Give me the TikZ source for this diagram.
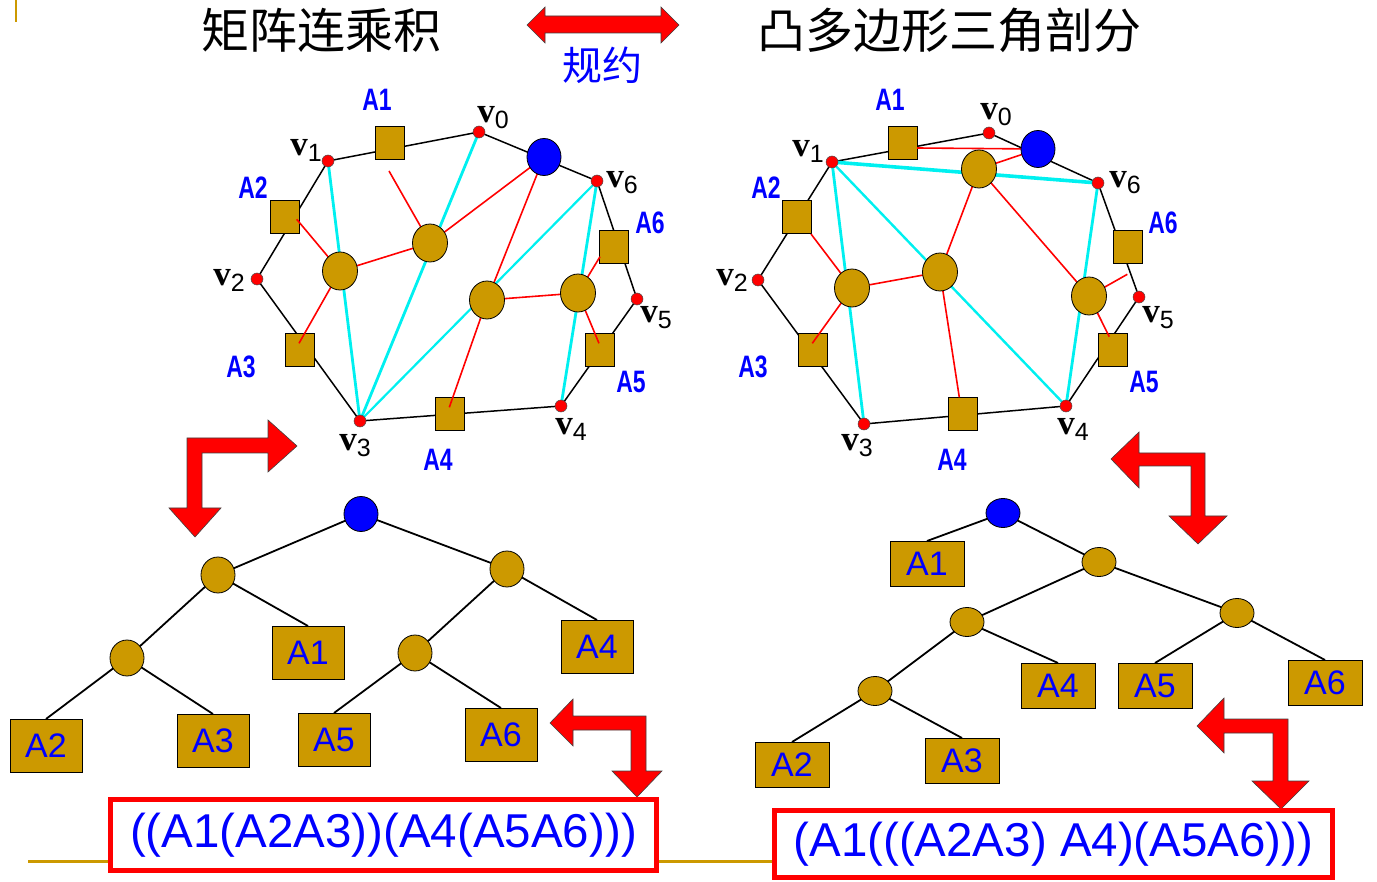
\documentclass[tikz,border=0pt]{standalone}
\usepackage{fontspec}
\setmainfont{Liberation Sans}
\newfontfamily\cjk{Noto Sans CJK SC}
\newfontfamily\serifv{Liberation Serif}
\newfontfamily\narrowA[FakeStretch=0.74]{Liberation Sans Bold}
\usetikzlibrary{shapes.geometric}
\definecolor{gold}{RGB}{204,153,0}
\definecolor{myblue}{RGB}{0,0,255}
\definecolor{mycyan}{RGB}{0,240,240}
\pgfdeclarelayer{bg}
\pgfdeclarelayer{top}
\pgfsetlayers{bg,main,top}
\newcommand{\vlab}[1]{{\fontsize{35}{35}\selectfont\serifv\bfseries v}\raisebox{-6pt}{\fontsize{25}{25}\selectfont #1}}
\begin{document}
\begin{tikzpicture}[x=1pt,y=-1pt,
  pdot/.style={circle,fill=red,draw=black!70,line width=0.5pt,inner sep=0,minimum size=12pt},
  psq/.style={rectangle,fill=gold,draw=black,line width=0.8pt,inner sep=0,minimum width=29pt,minimum height=33pt},
  pell/.style={ellipse,fill=gold,draw=black,line width=0.8pt,inner sep=0,minimum width=35pt,minimum height=38pt},
  pblue/.style={ellipse,fill=myblue,draw=black,line width=0.8pt,inner sep=0,minimum width=34pt,minimum height=37pt},
  blk/.style={black,line width=1.5pt},
  cy/.style={mycyan,line width=2.8pt},
  rd/.style={red,line width=1.6pt},
  plab/.style={text=myblue,inner sep=0,font=\narrowA\fontsize{31}{31}\selectfont},
  vl/.style={inner sep=0},
  tell/.style={ellipse,fill=gold,draw=black,line width=0.8pt,inner sep=0,minimum width=34pt,minimum height=36pt},
  tblue/.style={ellipse,fill=myblue,draw=black,line width=0.8pt,inner sep=0,minimum width=34pt,minimum height=35pt},
  tell2/.style={tell,minimum height=29pt},
  tblue2/.style={tblue,minimum height=29pt},
  tbox/.style={rectangle,fill=gold,draw=black,line width=1pt,inner sep=0,minimum width=72pt,minimum height=53pt,text=myblue,font=\fontsize{34}{34}\selectfont},
  tbox2/.style={tbox,minimum width=74pt,minimum height=45pt},
  tedge/.style={black,line width=1.8pt},
  barrow/.style={fill=red,draw=black!75,line width=0.6pt,line join=miter},
  resbox/.style={rectangle,draw=red,line width=5.5pt,fill=white,inner sep=0,text=myblue,font=\fontsize{47.5}{47.5}\selectfont}
]
\useasboundingbox (0,0) rectangle (1377,882);

% ---------- titles ----------
\node[font=\cjk\fontsize{48}{48}\selectfont] (title1) at (321,30) {矩阵连乘积};
\node[font=\cjk\fontsize{48}{48}\selectfont] (title2) at (949,30) {凸多边形三角剖分};
\node[text=myblue,font=\cjk\fontsize{40}{40}\selectfont] (reduce) at (602,65) {规约};
\draw[barrow] (527,25) -- (545,7) -- (545,16) -- (661,16) -- (661,7) -- (679,25) -- (661,43) -- (661,33) -- (545,33) -- (545,43) -- cycle;

% ---------- left polygon ----------
\begin{pgfonlayer}{top}
\node[pdot] (Lv0) at (479,132) {};
\node[pdot] (Lv1) at (328,161) {};
\node[pdot] (Lv2) at (257,279) {};
\node[pdot] (Lv3) at (360,421) {};
\node[pdot] (Lv4) at (561,406) {};
\node[pdot] (Lv5) at (637,299) {};
\node[pdot] (Lv6) at (597,181) {};
\node[pblue] (LB) at (544,157) {};
\node[pell] (LE1) at (340,271) {};
\node[pell] (LE2) at (430,243) {};
\node[pell] (LE3) at (487,300) {};
\node[pell] (LE4) at (578,293) {};
\end{pgfonlayer}
\node[psq] (LA1) at (390,143) {};
\node[psq] (LA2) at (285,217) {};
\node[psq] (LA3) at (300,350) {};
\node[psq] (LA4) at (450,414) {};
\node[psq] (LA5) at (600,350) {};
\node[psq] (LA6) at (614,247) {};
\coordinate (LA1r) at (389,171);
\coordinate (LA2r) at (296.7,219.3);
\coordinate (LA3r) at (299,343.3);
\coordinate (LA4r) at (449.3,407.3);
\coordinate (LA5r) at (599,343.3);
\coordinate (LA6r) at (600,256.7);
\begin{pgfonlayer}{bg}
\draw[blk] (Lv0.center) -- (Lv1.center) -- (Lv2.center) -- (Lv3.center) -- (Lv4.center) -- (Lv5.center) -- (Lv6.center) -- cycle;
\end{pgfonlayer}
\draw[cy] (Lv1.center) -- (Lv3.center);
\draw[cy] (Lv0.center) -- (Lv3.center);
\draw[cy,line width=2.2pt] (Lv6.center) -- (Lv3.center);
\draw[cy] (Lv6.center) -- (Lv4.center);
\draw[rd] (LA1r) -- (LE2.center);
\draw[rd] (LE2.center) -- (LB.center);
\draw[rd] (LE1.center) -- (LA2r);
\draw[rd] (LE1.center) -- (LA3r);
\draw[rd] (LE1.center) -- (LE2.center);
\draw[rd] (LB.center) -- (LE3.center);
\draw[rd] (LE3.center) -- (LA4r);
\draw[rd] (LE3.center) -- (LE4.center);
\draw[rd] (LE4.center) -- (LA6r);
\draw[rd] (LE4.center) -- (LA5r);
\node[plab] (LlA1) at (377,100) {A1};
\node[plab] (LlA2) at (253,188) {A2};
\node[plab] (LlA3) at (241,367) {A3};
\node[plab] (LlA4) at (438,460) {A4};
\node[plab] (LlA5) at (631,382) {A5};
\node[plab] (LlA6) at (650,223) {A6};
\node[vl] (Llv0) at (493,118) {\vlab{0}};
\node[vl] (Llv1) at (306,150) {\vlab{1}};
\node[vl] (Llv2) at (229,280) {\vlab{2}};
\node[vl] (Llv3) at (355,446) {\vlab{3}};
\node[vl] (Llv4) at (571,429) {\vlab{4}};
\node[vl] (Llv5) at (656,318) {\vlab{5}};
\node[vl] (Llv6) at (622,183) {\vlab{6}};

% ---------- right polygon ----------
\begin{pgfonlayer}{top}
\node[pdot] (Rv0) at (989,133) {};
\node[pdot] (Rv1) at (832,162) {};
\node[pdot] (Rv2) at (758,280) {};
\node[pdot] (Rv3) at (864,424) {};
\node[pdot] (Rv4) at (1066,406) {};
\node[pdot] (Rv5) at (1139,297) {};
\node[pdot] (Rv6) at (1098,183) {};
\node[pblue] (RB) at (1038,149) {};
\node[pell] (RF1) at (979,169) {};
\node[pell] (RF2) at (940,272) {};
\node[pell] (RF3) at (852,288) {};
\node[pell] (RF4) at (1089,296) {};
\end{pgfonlayer}
\node[psq] (RA1) at (903,143) {};
\node[psq] (RA2) at (797,217) {};
\node[psq] (RA3) at (813,350) {};
\node[psq] (RA4) at (963,414) {};
\node[psq] (RA5) at (1113,350) {};
\node[psq] (RA6) at (1128,247) {};
\coordinate (RA1r) at (917,148);
\coordinate (RA2r) at (811,234);
\coordinate (RA3r) at (812.3,343.3);
\coordinate (RA4r) at (959.3,397.3);
\coordinate (RA5r) at (1109.3,336.7);
\coordinate (RA6r) at (1127.3,274.3);
\begin{pgfonlayer}{bg}
\draw[blk] (Rv0.center) -- (Rv1.center) -- (Rv2.center) -- (Rv3.center) -- (Rv4.center) -- (Rv5.center) -- (Rv6.center) -- cycle;
\end{pgfonlayer}
\draw[cy,line width=3.6pt] (Rv1.center) -- (Rv6.center);
\draw[cy] (Rv1.center) -- (Rv3.center);
\draw[cy,line width=2.4pt] (Rv1.center) -- (Rv4.center);
\draw[cy] (Rv6.center) -- (Rv4.center);
\draw[rd] (RA1r) -- (RB.center);
\draw[rd] (RB.center) -- (RF1.center);
\draw[rd] (RF1.center) -- (RF2.center);
\draw[rd] (RF1.center) -- (RF4.center);
\draw[rd] (RF2.center) -- (RF3.center);
\draw[rd] (RF2.center) -- (RA4r);
\draw[rd] (RF3.center) -- (RA2r);
\draw[rd] (RF3.center) -- (RA3r);
\draw[rd] (RF4.center) -- (RA6r);
\draw[rd] (RF4.center) -- (RA5r);
\node[plab] (RlA1) at (890,100) {A1};
\node[plab] (RlA2) at (766,188) {A2};
\node[plab] (RlA3) at (753,367) {A3};
\node[plab] (RlA4) at (952,460) {A4};
\node[plab] (RlA5) at (1144,382) {A5};
\node[plab] (RlA6) at (1163,223) {A6};
\node[vl] (Rlv0) at (996,115) {\vlab{0}};
\node[vl] (Rlv1) at (808,151) {\vlab{1}};
\node[vl] (Rlv2) at (732,280) {\vlab{2}};
\node[vl] (Rlv3) at (857,446) {\vlab{3}};
\node[vl] (Rlv4) at (1073,429) {\vlab{4}};
\node[vl] (Rlv5) at (1158,318) {\vlab{5}};
\node[vl] (Rlv6) at (1125,183) {\vlab{6}};

% ---------- left tree ----------
\node[tblue] (TLr) at (361,514) {};
\node[tell] (TLa) at (218,575) {};
\node[tell] (TLb) at (507,569) {};
\node[tell] (TLc) at (127,658) {};
\node[tell] (TLd) at (415,653) {};
\node[tbox] (TLA1) at (308,653) {A1};
\node[tbox] (TLA4) at (597,647) {A4};
\node[tbox] (TLA2) at (46,746) {A2};
\node[tbox] (TLA3) at (213,741) {A3};
\node[tbox] (TLA5) at (334,740) {A5};
\node[tbox] (TLA6) at (501,735) {A6};
\begin{pgfonlayer}{bg}
\draw[tedge] (TLr.center) -- (TLa.center);
\draw[tedge] (TLr.center) -- (TLb.center);
\draw[tedge] (TLa.center) -- (TLc.center);
\draw[tedge] (TLa.center) -- (TLA1.north);
\draw[tedge] (TLb.center) -- (TLd.center);
\draw[tedge] (TLb.center) -- (TLA4.north);
\draw[tedge] (TLc.center) -- (TLA2.north);
\draw[tedge] (TLc.center) -- (TLA3.north);
\draw[tedge] (TLd.center) -- (TLA5.north);
\draw[tedge] (TLd.center) -- (TLA6.north);
\end{pgfonlayer}

% ---------- right tree ----------
\node[tblue2] (TRr) at (1003,513) {};
\node[tell2] (TRa) at (1099,562) {};
\node[tell2] (TRb) at (967,622) {};
\node[tell2] (TRc) at (1237,613) {};
\node[tell2] (TRd) at (875,691) {};
\node[tbox2] (TRA1) at (927,564) {A1};
\node[tbox2] (TRA4) at (1058,686) {A4};
\node[tbox2] (TRA5) at (1155,686) {A5};
\node[tbox2] (TRA6) at (1325,683) {A6};
\node[tbox2] (TRA2) at (792,765) {A2};
\node[tbox2] (TRA3) at (962,761) {A3};
\begin{pgfonlayer}{bg}
\draw[tedge] (TRr.center) -- (TRA1.north);
\draw[tedge] (TRr.center) -- (TRa.center);
\draw[tedge] (TRa.center) -- (TRb.center);
\draw[tedge] (TRa.center) -- (TRc.center);
\draw[tedge] (TRb.center) -- (TRd.center);
\draw[tedge] (TRb.center) -- (TRA4.north);
\draw[tedge] (TRc.center) -- (TRA5.north);
\draw[tedge] (TRc.center) -- (TRA6.north);
\draw[tedge] (TRd.center) -- (TRA2.north);
\draw[tedge] (TRd.center) -- (TRA3.north);
\end{pgfonlayer}

% ---------- bent arrows ----------
\draw[barrow] (187,438) -- (268,438) -- (268,420) -- (297,446) -- (268,472) -- (268,453) -- (202,453) -- (202,508) -- (221,508) -- (195,537) -- (169,508) -- (187,508) -- cycle;
\draw[barrow] (1205,453) -- (1139,453) -- (1139,432) -- (1111,459) -- (1139,488) -- (1139,466) -- (1191,466) -- (1191,516) -- (1169,516) -- (1198,544) -- (1227,516) -- (1205,516) -- cycle;
\draw[barrow] (646,716) -- (573,716) -- (573,699) -- (550,723) -- (573,746) -- (573,730) -- (631,730) -- (631,771) -- (612,771) -- (637,797) -- (662,771) -- (646,771) -- cycle;
\draw[barrow] (1288,719) -- (1224,719) -- (1224,698) -- (1197,726) -- (1224,753) -- (1224,733) -- (1273,733) -- (1273,781) -- (1252,781) -- (1281,809) -- (1309,781) -- (1288,781) -- cycle;

% ---------- result boxes ----------
\node[resbox,minimum width=546pt,minimum height=71pt] (res1) at (383.5,835) {((A1(A2A3))(A4(A5A6)))};
\node[resbox,minimum width=558pt,minimum height=67pt] (res2) at (1053.5,844) {(A1(((A2A3) A4)(A5A6)))};
\coordinate (gl0) at (28,861);
\begin{pgfonlayer}{bg}
\draw[gold,line width=3pt] (gl0) -- (res2.west |- gl0);
\draw[gold,line width=2.5pt] (16,0) -- (16,22);
\end{pgfonlayer}
\end{tikzpicture}
\end{document}
